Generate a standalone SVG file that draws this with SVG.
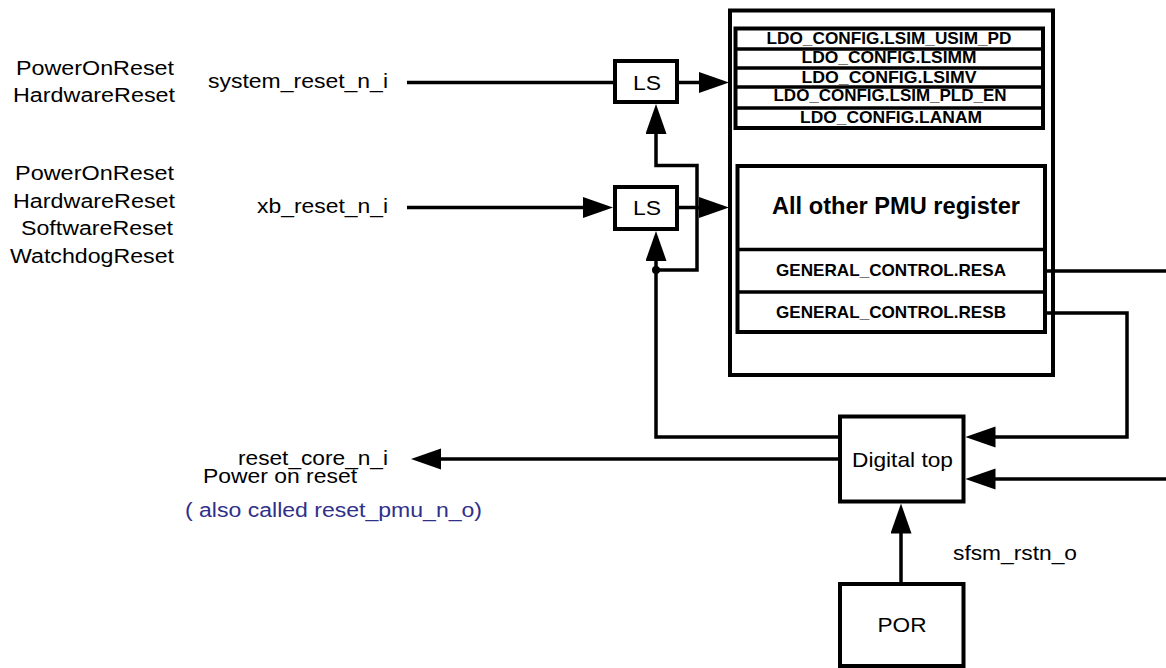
<svg xmlns="http://www.w3.org/2000/svg" width="1166" height="668" viewBox="0 0 1166 668">
  <style>
    .box { fill: #fff; stroke: #000; stroke-width: 4; }
    .sep { stroke: #000; stroke-width: 3.5; fill: none; }
    .wire { fill: none; stroke: #000; stroke-width: 3.5; stroke-linejoin: miter; }
    .t { font-family: "Liberation Sans", Arial, sans-serif; fill: #000; }
    .lbl { font-size: 19.5px; }
    .reg { font-size: 17px; font-weight: bold; text-anchor: middle; }
    .blue { fill: #30308a; }
  </style>
  <defs>
    <marker id="arr" markerUnits="userSpaceOnUse" markerWidth="30" markerHeight="22" refX="20" refY="10.5" orient="auto">
      <path d="M0,0 L30,10.5 L0,21 Z" fill="#000"/>
    </marker>
  </defs>
  <rect width="1166" height="668" fill="#fff"/>

  <g id="input-labels">
    <text class="t lbl" x="174" y="75" text-anchor="end" textLength="158" lengthAdjust="spacingAndGlyphs">PowerOnReset</text>
    <text class="t lbl" x="175" y="102" text-anchor="end" textLength="162" lengthAdjust="spacingAndGlyphs">HardwareReset</text>
    <text class="t lbl" x="388" y="88" text-anchor="end" textLength="180" lengthAdjust="spacingAndGlyphs">system_reset_n_i</text>
    <text class="t lbl" x="174" y="180" text-anchor="end" textLength="159" lengthAdjust="spacingAndGlyphs">PowerOnReset</text>
    <text class="t lbl" x="175" y="208" text-anchor="end" textLength="162" lengthAdjust="spacingAndGlyphs">HardwareReset</text>
    <text class="t lbl" x="173" y="235" text-anchor="end" textLength="152" lengthAdjust="spacingAndGlyphs">SoftwareReset</text>
    <text class="t lbl" x="174" y="263" text-anchor="end" textLength="164" lengthAdjust="spacingAndGlyphs">WatchdogReset</text>
    <text class="t lbl" x="388" y="213" text-anchor="end" textLength="131" lengthAdjust="spacingAndGlyphs">xb_reset_n_i</text>
  </g>

  <g id="ls1">
    <rect class="box" x="615" y="61" width="62" height="41"/>
    <text class="t" x="647" y="89.5" font-size="20" text-anchor="middle" textLength="28" lengthAdjust="spacingAndGlyphs">LS</text>
  </g>
  <g id="ls2">
    <rect class="box" x="615" y="187" width="62" height="42"/>
    <text class="t" x="647" y="214.5" font-size="20" text-anchor="middle" textLength="28" lengthAdjust="spacingAndGlyphs">LS</text>
  </g>

  <g id="pmu-block">
    <rect class="box" x="730" y="10.5" width="323" height="364.5"/>
  </g>
  <g id="ldo-config">
    <rect class="box" x="735.5" y="28.5" width="307.5" height="99.5" stroke-width="3.5"/>
    <line class="sep" x1="735.5" y1="49" x2="1043" y2="49" stroke-width="3"/>
    <line class="sep" x1="735.5" y1="68" x2="1043" y2="68" stroke-width="3"/>
    <line class="sep" x1="735.5" y1="87" x2="1043" y2="87" stroke-width="3"/>
    <line class="sep" x1="735.5" y1="108" x2="1043" y2="108" stroke-width="3"/>
    <text class="t reg" x="889" y="43.5" textLength="245" lengthAdjust="spacingAndGlyphs">LDO_CONFIG.LSIM_USIM_PD</text>
    <text class="t reg" x="889" y="62.5" textLength="175" lengthAdjust="spacingAndGlyphs">LDO_CONFIG.LSIMM</text>
    <text class="t reg" x="889" y="83" textLength="175" lengthAdjust="spacingAndGlyphs">LDO_CONFIG.LSIMV</text>
    <text class="t reg" x="890" y="100.5" textLength="233" lengthAdjust="spacingAndGlyphs">LDO_CONFIG.LSIM_PLD_EN</text>
    <text class="t reg" x="891" y="123" textLength="182" lengthAdjust="spacingAndGlyphs">LDO_CONFIG.LANAM</text>
  </g>
  <g id="other-registers">
    <rect class="box" x="737.5" y="166" width="307.5" height="166"/>
    <line class="sep" x1="737.5" y1="249.5" x2="1045" y2="249.5" stroke-width="4"/>
    <line class="sep" x1="737.5" y1="292" x2="1045" y2="292" stroke-width="4"/>
    <text class="t" x="896" y="214" font-size="23" font-weight="bold" text-anchor="middle" textLength="248" lengthAdjust="spacingAndGlyphs">All other PMU register</text>
    <text class="t reg" x="891" y="276" font-size="15.5" textLength="230" lengthAdjust="spacingAndGlyphs">GENERAL_CONTROL.RESA</text>
    <text class="t reg" x="891" y="318" font-size="15.5" textLength="230" lengthAdjust="spacingAndGlyphs">GENERAL_CONTROL.RESB</text>
  </g>

  <g id="digital-top">
    <rect class="box" x="840" y="416.5" width="123.5" height="85"/>
    <text class="t" x="902.5" y="467" font-size="21" text-anchor="middle" textLength="101" lengthAdjust="spacingAndGlyphs">Digital top</text>
  </g>
  <g id="por">
    <rect class="box" x="840" y="584" width="123.5" height="82"/>
    <text class="t" x="902" y="632" font-size="20" text-anchor="middle" textLength="49" lengthAdjust="spacingAndGlyphs">POR</text>
  </g>

  <g id="output-labels">
    <text class="t lbl" x="388" y="465" text-anchor="end" textLength="150" lengthAdjust="spacingAndGlyphs">reset_core_n_i</text>
    <text class="t lbl" x="203" y="483" textLength="154" lengthAdjust="spacingAndGlyphs">Power on reset</text>
    <text class="t lbl blue" x="185" y="517" textLength="297" lengthAdjust="spacingAndGlyphs">( also called reset_pmu_n_o)</text>
    <text class="t lbl" x="953" y="560" textLength="124" lengthAdjust="spacingAndGlyphs">sfsm_rstn_o</text>
  </g>

  <g id="connectors">
    <path class="wire" d="M407,82.5 H615"/>
    <path class="wire" d="M407,207.5 H603" marker-end="url(#arr)"/>
    <path class="wire" d="M677,82.5 H719" marker-end="url(#arr)"/>
    <path class="wire" d="M677,207.5 H719" marker-end="url(#arr)"/>
    <path class="wire" d="M656,270 H697 V165.5 H656 V114" marker-end="url(#arr)"/>
    <path class="wire" d="M840,437 H656 V241" marker-end="url(#arr)"/>
    <circle cx="656" cy="270" r="4" fill="#000"/>
    <path class="wire" d="M840,459 H421" marker-end="url(#arr)"/>
    <path class="wire" d="M1045,271 H1166"/>
    <path class="wire" d="M1045,313 H1127 V437 H975.5" marker-end="url(#arr)"/>
    <path class="wire" d="M1166,479 H975.5" marker-end="url(#arr)"/>
    <path class="wire" d="M901,584 V513.5" marker-end="url(#arr)"/>
  </g>
</svg>
